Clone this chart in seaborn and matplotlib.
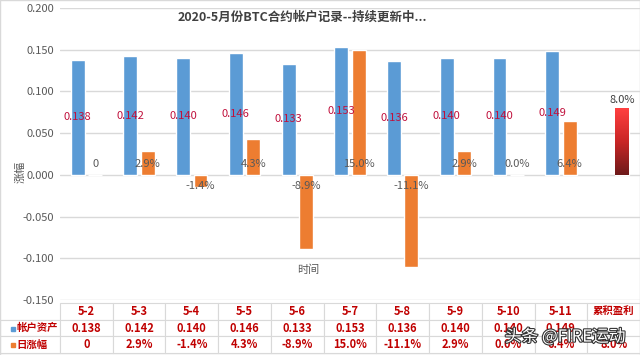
import numpy as np
import pandas as pd
import matplotlib.pyplot as plt
import matplotlib.patheffects as pe
from matplotlib.colors import LinearSegmentedColormap
import seaborn as sns

# 数据
dates = ['5-2', '5-3', '5-4', '5-5', '5-6', '5-7', '5-8', '5-9', '5-10', '5-11', '累积盈利']
series = ['帐户资产', '日涨幅']
assets = [0.138, 0.142, 0.140, 0.146, 0.133, 0.153, 0.136, 0.140, 0.140, 0.149]
daily = [0.0, 0.029, -0.014, 0.043, -0.089, 0.150, -0.111, 0.029, 0.0, 0.064, 0.080]
asset_labels = ['0.138', '0.142', '0.140', '0.146', '0.133', '0.153', '0.136', '0.140', '0.140', '0.149']
daily_labels = ['0', '2.9%', '-1.4%', '4.3%', '-8.9%', '15.0%', '-11.1%', '2.9%', '0.0%', '6.4%', '8.0%']

blue = '#5B9BD5'
orange = '#ED7D31'
dark_red = '#C00000'
grey = '#595959'

rows = []
for d, v in zip(dates, assets):
    rows.append({'date': d, 'series': series[0], 'value': v})
for d, v in zip(dates, daily):
    rows.append({'date': d, 'series': series[1], 'value': v})
df = pd.DataFrame(rows)

sns.set_theme(style='white')
plt.rcParams['font.family'] = ['Noto Sans CJK SC', 'DejaVu Sans']

fig = plt.figure(figsize=(6.4, 3.55), dpi=100)
ax = fig.add_axes([60 / 640, 1 - 300 / 355, 580 / 640, 292 / 355])

sns.barplot(data=df, x='date', y='value', hue='series', order=dates, hue_order=series,
            palette=[blue, orange], width=0.66, gap=0.2, legend=False, ax=ax,
            saturation=1, errorbar=None)

ax.set_ylim(-0.15, 0.2)
ax.set_xlim(-0.5, len(dates) - 0.5)
yt = np.arange(-0.15, 0.2001, 0.05)
ax.set_yticks(yt)
ax.set_yticklabels(['%.3f' % t for t in yt], color=grey, fontsize=8)
ax.set_xticks([])
ax.set_xlabel('')
ax.set_ylabel('')
ax.grid(axis='y', color='#D9D9D9', linewidth=1)
ax.set_axisbelow(True)
for s in ax.spines.values():
    s.set_visible(False)
ax.tick_params(axis='y', length=0, pad=4)

blue_bars = ax.containers[0]
orange_bars = ax.containers[1]

# 帐户资产标签（柱中间）
for bar, lab in zip(blue_bars, asset_labels):
    x = bar.get_x() + bar.get_width() / 2
    ax.text(x, bar.get_height() / 2, lab, ha='center', va='center', color='#C0103C', fontsize=8)

# 日涨幅标签（柱底部内侧）
for i, (bar, lab) in enumerate(zip(orange_bars, daily_labels)):
    x = bar.get_x() + bar.get_width() / 2
    v = daily[i]
    if i == len(dates) - 1:
        ax.annotate(lab, (x, v), xytext=(0, 6), textcoords='offset points',
                    ha='center', va='center', color='#404040', fontsize=8)
    else:
        off = -8 if v < 0 else 8
        ax.annotate(lab, (x, 0), xytext=(0, off), textcoords='offset points',
                    ha='center', va='center', color=grey, fontsize=8)

# 累积盈利渐变红柱
last = orange_bars[len(dates) - 1]
cmap = LinearSegmentedColormap.from_list('redgrad', ['#6E1A1A', '#C92626', '#FF4040'])
x0, w = last.get_x(), last.get_width()
im = ax.imshow(np.linspace(0, 1, 100).reshape(-1, 1), cmap=cmap, origin='lower', aspect='auto',
               extent=[x0, x0 + w, 0, last.get_height()], zorder=last.get_zorder() + 0.1)
im.set_clip_path(last)
ax.set_xlim(-0.5, len(dates) - 0.5)
ax.set_ylim(-0.15, 0.2)

# 标题与轴标题
fig.text(302 / 640, 1 - 17 / 355, '2020-5月份BTC合约帐户记录--持续更新中...', ha='center', va='center',
         fontsize=9, fontweight='bold', color='#404040')
fig.text(308 / 640, 1 - 270 / 355, '时间', ha='center', va='center', fontsize=8, color=grey)
fig.text(20 / 640, 1 - 172 / 355, '涨幅', ha='center', va='center', fontsize=8, color=grey, rotation=90)

# 数据表（第一列为系列名）
cell_text = [[series[0]] + asset_labels + [''], [series[1]] + daily_labels]
tbl = ax.table(cellText=cell_text, colLabels=[''] + dates, cellLoc='center',
               colWidths=[60] + [52.73] * len(dates),
               bbox=[-60 / 580, -53 / 292, 640 / 580, 50 / 292])
tbl.auto_set_font_size(False)
for (r, c), cell in tbl.get_celld().items():
    cell.set_edgecolor('#D9D9D9')
    cell.set_linewidth(0.8)
    cell.get_text().set_color(dark_red)
    cell.get_text().set_fontweight('bold')
    cell.get_text().set_fontsize(8)
    if c == 0:
        cell.get_text().set_ha('left')
        cell.get_text().set_fontsize(7.5)
        cell._loc = 'left'
        cell.PAD = 0.27
    if r == 0 and c == len(dates):
        cell.get_text().set_fontsize(7.5)
    if r == 0 and c == 0:
        cell.visible_edges = 'B'

# 表格图例方块
for k, col in enumerate([blue, orange]):
    yk = 1 - (329 + k * 16) / 355
    ax.plot([13 / 640], [yk], marker='s', markersize=3.5, color=col, transform=fig.transFigure,
            clip_on=False, linestyle='none')

# 水印
fig.text(565 / 640, 1 - 337 / 355, '头条 @FIRE运动', ha='center', va='center', fontsize=12,
         color='white', path_effects=[pe.withStroke(linewidth=1.6, foreground='#333333')])

fig.patches.append(plt.Rectangle((0, 0), 1, 1, transform=fig.transFigure, fill=False,
                                 edgecolor='#D9D9D9', linewidth=1))

plt.savefig('out.png', dpi=100)
plt.close('all')
